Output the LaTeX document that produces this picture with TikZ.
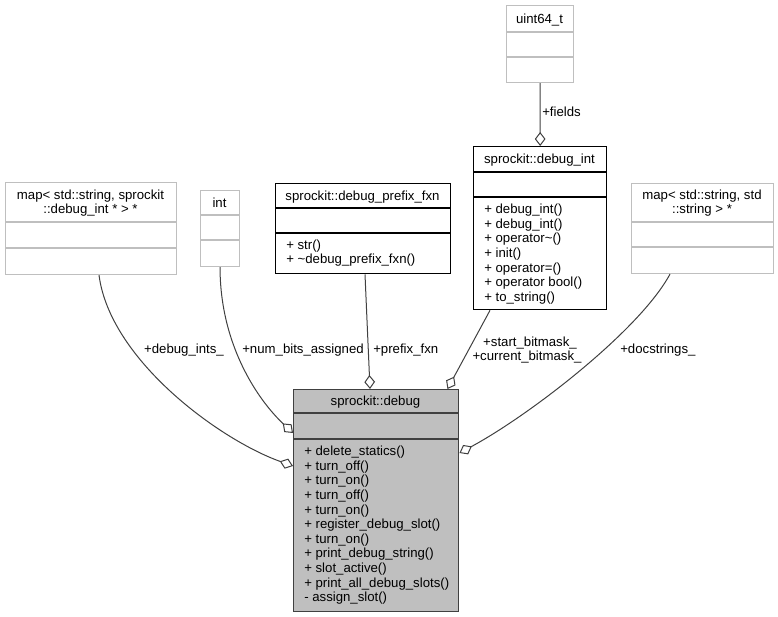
\documentclass[tikz,border=0pt]{standalone}
\usepackage{fontspec}
\setmainfont{Liberation Sans}
\usetikzlibrary{arrows.meta,calc}
\definecolor{edgec}{HTML}{404040}
\definecolor{lightb}{HTML}{BFBFBF}
\definecolor{dbgfill}{HTML}{BFBFBF}
\begin{document}
\begin{tikzpicture}[x=0.75pt,y=-0.75pt,
  txt/.style={font=\fontsize{9.9}{11}\selectfont, inner sep=0pt, text height=9pt, text depth=2pt},
  mth/.style={txt, anchor=west},
  gbox/.style={draw=lightb, line width=0.8pt, anchor=north west, inner sep=0pt},
  bbox/.style={draw=black, line width=1pt, anchor=north west, inner sep=0pt},
  dbox/.style={draw=edgec, fill=dbgfill, line width=1.1pt, anchor=north west, inner sep=0pt},
  gdiv/.style={draw=lightb, line width=0.8pt},
  bdiv/.style={draw=black, line width=1pt},
  conn/.style={draw=edgec, line width=0.75pt, -{Diamond[fill=white, length=10.5pt, width=8pt, line width=0.75pt]}},
  lbl/.style={txt}
]
\useasboundingbox (0,0) rectangle (778,617);

% map< std::string, sprockit::debug_int * > *
\node[gbox, minimum width=128.25pt, minimum height=69pt] (m1) at (5,182) {};
\draw[gdiv] (5,222) -- (176,222);
\draw[gdiv] (5,248) -- (176,248);
\node[txt] (m1t1) at (90.5,195) {map< std::string, sprockit};
\node[txt] (m1t2) at (90.5,209) {::debug\_int * > *};

% int
\node[gbox, minimum width=29.25pt, minimum height=57pt] (int) at (200,190) {};
\draw[gdiv] (200,215) -- (239,215);
\draw[gdiv] (200,240) -- (239,240);
\node[txt] (intt) at (219.5,202.5) {int};

% sprockit::debug_prefix_fxn
\node[bbox, minimum width=131.25pt, minimum height=67.5pt] (pfx) at (275,183) {};
\draw[bdiv] (275,208) -- (450,208);
\draw[bdiv] (275,233) -- (450,233);
\node[txt] (pfxt) at (362.5,195.5) {sprockit::debug\_prefix\_fxn};
\node[mth] (pfx1) at (286,244.5) {+ str()};
\node[mth] (pfx2) at (286,259) {+ \textasciitilde debug\_prefix\_fxn()};

% uint64_t
\node[gbox, minimum width=50.25pt, minimum height=57.75pt] (uint) at (506,5) {};
\draw[gdiv] (506,32) -- (573,32);
\draw[gdiv] (506,57) -- (573,57);
\node[txt] (uintt) at (539.5,18.5) {uint64\_t};

% sprockit::debug_int
\node[bbox, minimum width=99.75pt, minimum height=122.25pt] (dint) at (473,146) {};
\draw[bdiv] (473,172) -- (606,172);
\draw[bdiv] (473,197) -- (606,197);
\node[txt] (dintt) at (539.5,159) {sprockit::debug\_int};
\foreach \t [count=\i from 0] in {debug\_int(), debug\_int(), operator\textasciitilde(), init(), operator=(), operator bool(), to\_string()}
  \node[mth] (dintm\i) at (484,209+\i*14.6) {+ \t};

% map< std::string, std::string > *
\node[gbox, minimum width=106.5pt, minimum height=67.5pt] (m2) at (631,183) {};
\draw[gdiv] (631,222) -- (773,222);
\draw[gdiv] (631,247) -- (773,247);
\node[txt] (m2t1) at (702,195) {map< std::string, std};
\node[txt] (m2t2) at (702,209) {::string > *};

% sprockit::debug
\node[dbox, minimum width=123.75pt, minimum height=166.5pt] (dbg) at (293,389) {};
\draw[bdiv, draw=edgec] (293,413) -- (458,413);
\draw[bdiv, draw=edgec] (293,439) -- (458,439);
\node[txt] (dbgt) at (375.5,401) {sprockit::debug};
\foreach \t [count=\i from 0] in {+ delete\_statics(), + turn\_off(), + turn\_on(), + turn\_off(), + turn\_on(), + register\_debug\_slot(), + turn\_on(), + print\_debug\_string(), + slot\_active(), + print\_all\_debug\_slots(), - assign\_slot()}
  \node[mth] (dbgm\i) at (304,451+\i*14.6) {\t};

% connectors
\draw[conn] (uint.south) -- (dint.north);
\node[lbl, anchor=west] (lfields) at (542,112) {+fields};

\draw[conn] ($(dint.south west)+(17,0)$) -- ($(dbg.north east)+(-12,0)$);
\node[lbl] (lstart) at (530,342) {+start\_bitmask\_};
\node[lbl] (lcur) at (527,356) {+current\_bitmask\_};

\draw[conn] ($(pfx.south west)+(90,0)$) -- ($(dbg.north west)+(77,0)$);
\node[lbl, anchor=west] (lpfx) at (373,349) {+prefix\_fxn};

\draw[conn] (int.south) .. controls (220,345) and (258,400) .. ($(dbg.north west)+(0,44)$);
\node[lbl] (lnum) at (303,349) {+num\_bits\_assigned};

\draw[conn] ($(m1.south west)+(94,0)$) .. controls (110,360) and (220,440) .. ($(dbg.north west)+(0,77)$);
\node[lbl] (ldbg) at (184,349) {+debug\_ints\_};

\draw[conn] ($(m2.south west)+(39,0)$) .. controls (640,330) and (530,415) .. ($(dbg.north east)+(0,64)$);
\node[lbl, anchor=west] (ldoc) at (620,349) {+docstrings\_};
\end{tikzpicture}
\end{document}
